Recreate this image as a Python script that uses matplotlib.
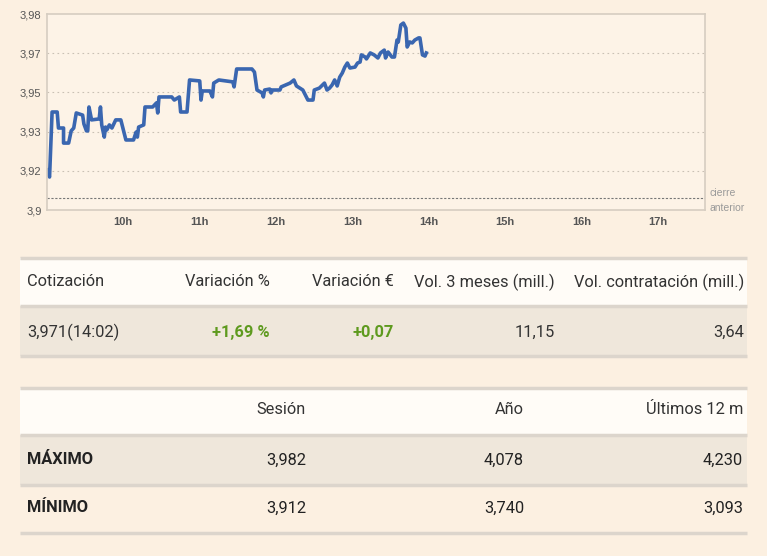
import matplotlib.pyplot as plt
from matplotlib.patches import Rectangle

plt.rcParams['font.family'] = ['Liberation Sans', 'DejaVu Sans']

# intraday quote, minutes after 9:00
minutes = [0, 2, 4, 8, 9, 13, 13, 17, 19, 21, 23, 28, 29, 31, 32, 33, 35, 41, 42, 43,
           45, 46, 47, 49, 51, 54, 58, 62, 68, 70, 71, 72, 76, 77, 83, 86, 87, 88, 98, 100,
           104, 105, 110, 112, 120, 121, 122, 128, 130, 131, 135, 146, 147, 149, 161, 163, 165, 169, 170, 171,
           175, 176, 177, 183, 184, 191, 194, 196, 201, 203, 205, 209, 210, 214, 218, 220, 222, 224, 226, 228,
           230, 232, 234, 236, 238, 242, 244, 246, 247, 250, 251, 254, 257, 260, 262, 265, 266, 268, 271, 273,
           275, 276, 278, 280, 282, 283, 283, 285, 287, 289, 292, 293, 295, 297, 298]
prices = [3.9167, 3.9138, 3.9410, 3.9410, 3.9343, 3.9343, 3.9280, 3.9280, 3.9331, 3.9343, 3.9406, 3.9397, 3.9360, 3.9331, 3.9331, 3.9431, 3.9377, 3.9381, 3.9431, 3.9356,
          3.9305, 3.9347, 3.9335, 3.9356, 3.9343, 3.9377, 3.9377, 3.9293, 3.9293, 3.9326, 3.9305, 3.9347, 3.9356, 3.9431, 3.9431, 3.9448, 3.9406, 3.9473, 3.9473, 3.9460,
          3.9473, 3.9410, 3.9410, 3.9544, 3.9540, 3.9460, 3.9498, 3.9498, 3.9473, 3.9531, 3.9544, 3.9536, 3.9515, 3.9590, 3.9590, 3.9577, 3.9502, 3.9490, 3.9473, 3.9502,
          3.9506, 3.9490, 3.9502, 3.9502, 3.9515, 3.9531, 3.9544, 3.9519, 3.9502, 3.9481, 3.9460, 3.9460, 3.9502, 3.9510, 3.9531, 3.9502, 3.9510, 3.9523, 3.9544, 3.9519,
          3.9556, 3.9573, 3.9598, 3.9615, 3.9594, 3.9598, 3.9615, 3.9619, 3.9649, 3.9640, 3.9632, 3.9657, 3.9649, 3.9636, 3.9657, 3.9669, 3.9636, 3.9661, 3.9640, 3.9640,
          3.9711, 3.9703, 3.9774, 3.9782, 3.9761, 3.9682, 3.9682, 3.9703, 3.9699, 3.9711, 3.9720, 3.9720, 3.9649, 3.9644, 3.9657]
prev_close = 3.905
y_ticks = [3.9, 3.9164, 3.9328, 3.9492, 3.9656, 3.982]
y_labels = ["3,9", "3,92", "3,93", "3,95", "3,97", "3,98"]
hours = [60, 120, 180, 240, 300, 360, 420, 480]
hour_labels = ["10h", "11h", "12h", "13h", "14h", "15h", "16h", "17h"]

quote_head = ["Cotización", "Variación %", "Variación €", "Vol. 3 meses (mill.)", "Vol. contratación (mill.)"]
quote_vals = ["3,971(14:02)", "+1,69 %", "+0,07", "11,15", "3,64"]
range_head = ["", "Sesión", "Año", "Últimos 12 m"]
range_rows = [["MÁXIMO", "3,982", "4,078", "4,230"],
              ["MÍNIMO", "3,912", "3,740", "3,093"]]

bg = "#fcf0e1"
fig = plt.figure(figsize=(7.67, 5.56), dpi=100, facecolor=bg)
ax = fig.add_axes([47 / 767, 1 - 210 / 556, 658 / 767, 196 / 556])
ax.set_facecolor("#fdf3e7")
ax.plot(minutes, prices[:len(minutes)], color="#3a66b0", linewidth=2.6, solid_joinstyle="round")
ax.axhline(prev_close, color="#777777", linestyle=(0, (2, 1.5)), linewidth=0.8)
ax.set_xlim(0, 517)
ax.set_ylim(3.9, 3.982)
ax.set_yticks(y_ticks)
ax.set_yticklabels(y_labels)
ax.set_xticks(hours)
ax.set_xticklabels(hour_labels, fontweight="bold")
for yv in y_ticks[1:-1]:
    ax.axhline(yv, color="#c9c0b4", linestyle=(0, (1.5, 3)), linewidth=0.8, zorder=0)
ax.tick_params(length=0, labelsize=8, colors="#555555", pad=4)
ax.tick_params(axis="x", pad=5)
for s in ax.spines.values():
    s.set_color("#d6cdc1")
    s.set_linewidth(1.2)
fig.text(710 / 767, 1 - 193 / 556, "cierre", fontsize=7.5, color="#999999", va="center")
fig.text(710 / 767, 1 - 208 / 556, "anterior", fontsize=7.5, color="#999999", va="center")

# tables drawn in pixel space
tx = fig.add_axes([0, 0, 1, 1], facecolor="none")
tx.set_xlim(0, 767)
tx.set_ylim(556, 0)
tx.axis("off")
font = ["Roboto", "DejaVu Sans"]
fs = 11.8
row_bg = "#efe7db"
head_bg = "#fffcf7"
line_c = "#dcd5cc"

def row(y0, y1, color):
    tx.add_patch(Rectangle((20, y0), 727, y1 - y0, facecolor=color, edgecolor="none"))

def hline(y):
    tx.plot([20, 747], [y, y], color=line_c, linewidth=2.5, solid_capstyle="butt")

row(258, 306, head_bg)
row(306, 356, row_bg)
for y in (258, 306, 356):
    hline(y)
q_x = [27, 270, 394, 555, 744]
for i, (h, v) in enumerate(zip(quote_head, quote_vals)):
    ha = "left" if i == 0 else "right"
    col = "#5e9a1e" if i in (1, 2) else "#333333"
    tx.text(q_x[i], 282, h, ha=ha, va="center", fontsize=fs, color="#333333", family=font)
    tx.text(q_x[i], 332, v, ha=ha, va="center", fontsize=fs, color=col, family=font,
            fontweight="bold" if i in (1, 2) else "normal")

row(388, 435, head_bg)
row(435, 485, row_bg)
for y in (388, 435, 485, 533):
    hline(y)
r_x = [27, 306, 524, 743]
for i, h in enumerate(range_head):
    tx.text(r_x[i], 410, h, ha="right", va="center", fontsize=fs, color="#333333", family=font)
for j, r in enumerate(range_rows):
    yy = 460 + j * 48
    for i, v in enumerate(r):
        ha = "left" if i == 0 else "right"
        tx.text(r_x[i], yy, v, ha=ha, va="center", fontsize=fs, color="#222222", family=font,
                fontweight="bold" if i == 0 else "normal")

fig.savefig("out.png", dpi=100, facecolor=bg)
